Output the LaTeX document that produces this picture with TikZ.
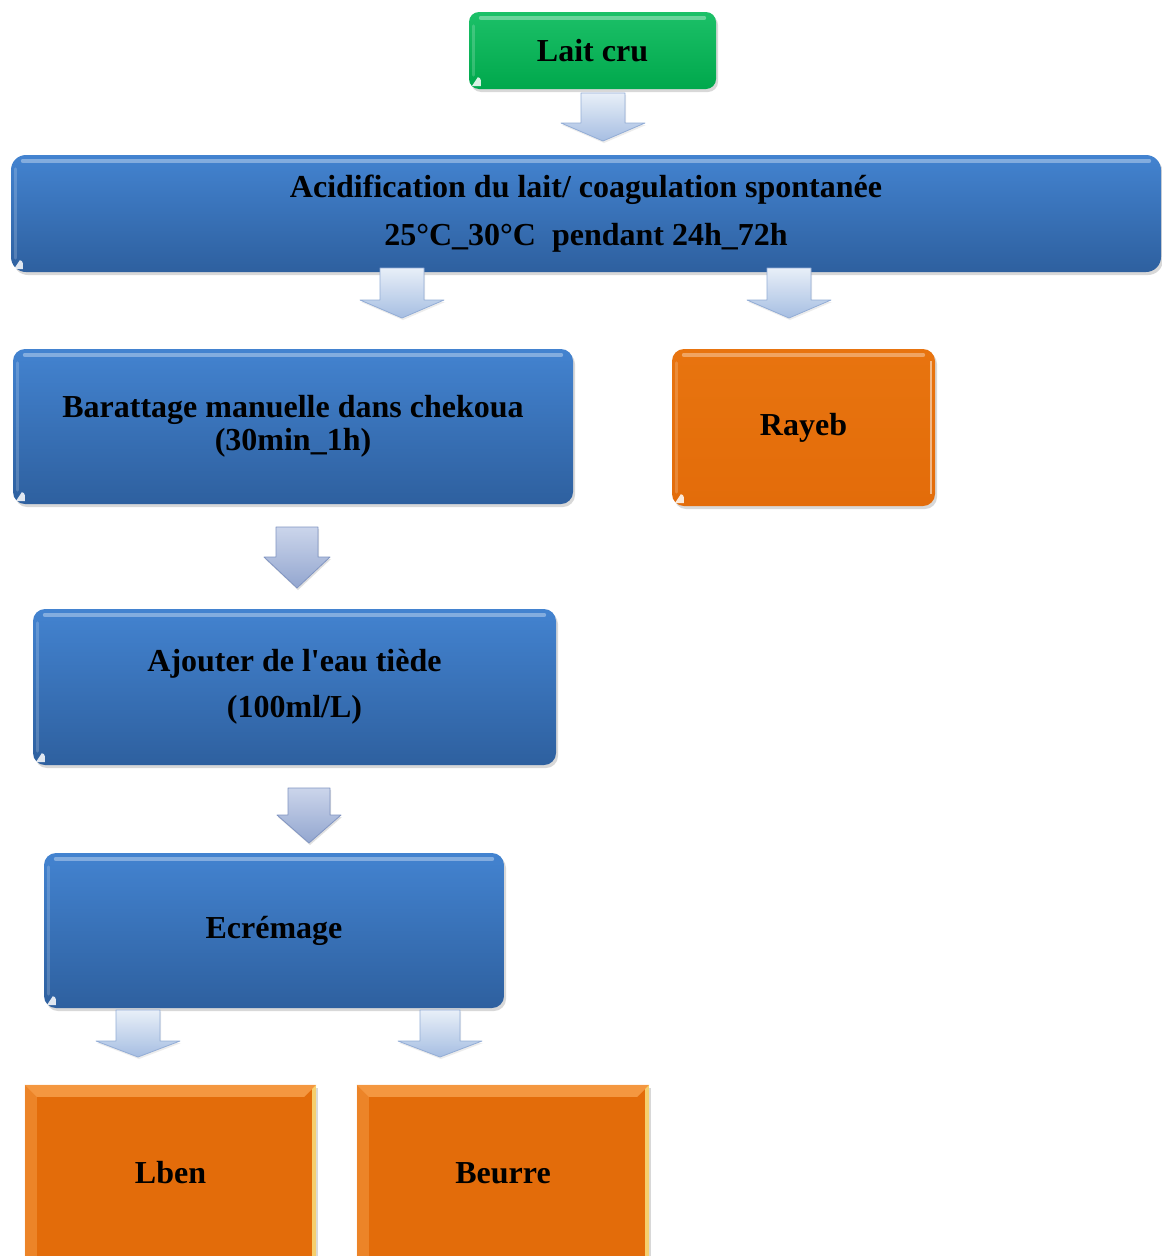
\documentclass[tikz,border=0pt]{standalone}
\usepackage{fontspec}
\newfontfamily\lserif{Liberation Serif}
\usetikzlibrary{shadows}
\definecolor{gTop}{HTML}{1CC068}
\definecolor{gBot}{HTML}{00A84C}
\definecolor{bTop}{HTML}{4383D0}
\definecolor{bBot}{HTML}{2E609F}
\definecolor{oMain}{HTML}{E36C0A}
\definecolor{oTop}{HTML}{E8740F}
\definecolor{oLight}{HTML}{F9A24E}
\definecolor{aTop}{HTML}{E8EFF8}
\definecolor{aBot}{HTML}{A6BEE2}
\definecolor{aEdge}{HTML}{93ADD6}
\definecolor{dTop}{HTML}{CBD5EB}
\definecolor{dBot}{HTML}{93A6CF}
\definecolor{dEdge}{HTML}{8195C2}
\newcommand{\flowarrow}[7]{%
  % #1 centre x, #2 top y, #3 shaft half width, #4 head half width, #5 length, #6 head length, #7 style
  \path[#7] (#1-#3,#2) -- (#1+#3,#2) -- (#1+#3,#2+#5-#6) -- (#1+#4,#2+#5-#6)
    -- (#1,#2+#5) -- (#1-#4,#2+#5-#6) -- (#1-#3,#2+#5-#6) -- cycle;}
\begin{document}
\begin{tikzpicture}[x=1pt,y=-1pt,
  txt/.style={font=\lserif\bfseries\fontsize{32}{36}\selectfont, align=center, text=black, inner sep=0pt},
  box/.style={txt, draw=none, drop shadow={opacity=0.3, shadow xshift=2pt, shadow yshift=-3pt}},
  greenbox/.style={box, rounded corners=10pt, top color=gTop, bottom color=gBot},
  bluebox/.style={box, rounded corners=12pt, top color=bTop, bottom color=bBot},
  orangebox/.style={box, rounded corners=12pt, top color=oTop, bottom color=oMain},
  squarebox/.style={box, fill=oMain},
  gloss/.style={line width=4pt, line cap=round, draw=white, draw opacity=0.35},
  lightarrow/.style={top color=aTop, bottom color=aBot, draw=aEdge, line width=0.8pt, line join=round,
     drop shadow={opacity=0.15, shadow xshift=1pt, shadow yshift=-2pt}},
  darkarrow/.style={top color=dTop, bottom color=dBot, draw=dEdge, line width=0.8pt, line join=round,
     drop shadow={opacity=0.25, shadow xshift=1pt, shadow yshift=-2pt}}
]
\clip (0,0) rectangle (1162,1256);
\fill[white] (0,0) rectangle (1162,1256);

% boxes
\node[greenbox, minimum width=247pt, minimum height=77pt] (lait) at (592.5,50.5) {Lait cru};
\node[bluebox, rounded corners=15pt, minimum width=1150pt, minimum height=117pt,
      font=\lserif\bfseries\fontsize{32}{48}\selectfont] (acid) at (586,213.5)
      {Acidification du lait/ coagulation spontanée\\25°C\_30°C\ \ pendant 24h\_72h};
\node[bluebox, minimum width=560pt, minimum height=155pt,
      font=\lserif\bfseries\fontsize{32}{33}\selectfont] (barat) at (293,426.5)
      {Barattage manuelle dans chekoua\\(30min\_1h)};
\node[orangebox, minimum width=263pt, minimum height=157pt] (rayeb) at (803.5,427.5) {Rayeb};
\node[bluebox, minimum width=523pt, minimum height=156pt,
      font=\lserif\bfseries\fontsize{32}{46}\selectfont] (ajout) at (294.5,687)
      {Ajouter de l'eau tiède\\(100ml/L)};
\node[bluebox, minimum width=460pt, minimum height=155pt] (ecrem) at (274,930.5) {Ecrémage};
\node[squarebox, minimum width=291pt, minimum height=176pt] (lben) at (170.5,1173) {};
\node[squarebox, minimum width=292pt, minimum height=176pt] (beurre) at (503,1173) {};

% gloss highlights on rounded boxes
\foreach \n in {lait,acid,barat,rayeb,ajout,ecrem}{
  \draw[gloss] ([xshift=12pt,yshift=-6pt]\n.north west) -- ([xshift=-12pt,yshift=-6pt]\n.north east);
  \draw[line width=3pt, draw=white, draw opacity=0.18, line cap=round]
     ([xshift=5pt,yshift=-14pt]\n.north west) -- ([xshift=5pt,yshift=14pt]\n.south west);
  \fill[white, opacity=0.85] ([xshift=3pt,yshift=3pt]\n.south west) -- ++(9,0) -- ++(0,-6) arc[start angle=0,end angle=90,radius=3pt] -- cycle;
}
\draw[white, opacity=0.5, line width=2pt] ([xshift=-4pt,yshift=-12pt]rayeb.north east) -- ([xshift=-4pt,yshift=12pt]rayeb.south east);

% bevels on the square orange boxes
\foreach \n in {lben,beurre}{
  \fill[oLight, opacity=0.8] (\n.north west) -- (\n.north east) -- ([xshift=-12pt,yshift=-12pt]\n.north east) -- ([xshift=12pt,yshift=-12pt]\n.north west) -- cycle;
  \fill[oLight, opacity=0.45] (\n.north west) -- ([xshift=12pt,yshift=-12pt]\n.north west) -- ([xshift=12pt]\n.south west) -- (\n.south west) -- cycle;
  \fill[yellow!40!white, opacity=0.7] (\n.north east) -- ([xshift=-4pt,yshift=-4pt]\n.north east) -- ([xshift=-4pt]\n.south east) -- (\n.south east) -- cycle;
}
\node[txt] (lbentxt) at (lben.center) {Lben};
\node[txt] (beurretxt) at (beurre.center) {Beurre};

% block arrows
\flowarrow{603}{93}{22}{42}{48}{18}{lightarrow}
\flowarrow{402}{268}{22}{42}{50}{18}{lightarrow}
\flowarrow{789}{268}{22}{42}{50}{18}{lightarrow}
\flowarrow{297}{527}{21}{33}{61}{31}{darkarrow}
\flowarrow{309}{788}{21}{32}{55}{28}{darkarrow}
\flowarrow{138}{1010}{22}{42}{47}{16}{lightarrow}
\flowarrow{440}{1010}{20}{42}{47}{16}{lightarrow}
\end{tikzpicture}
\end{document}
